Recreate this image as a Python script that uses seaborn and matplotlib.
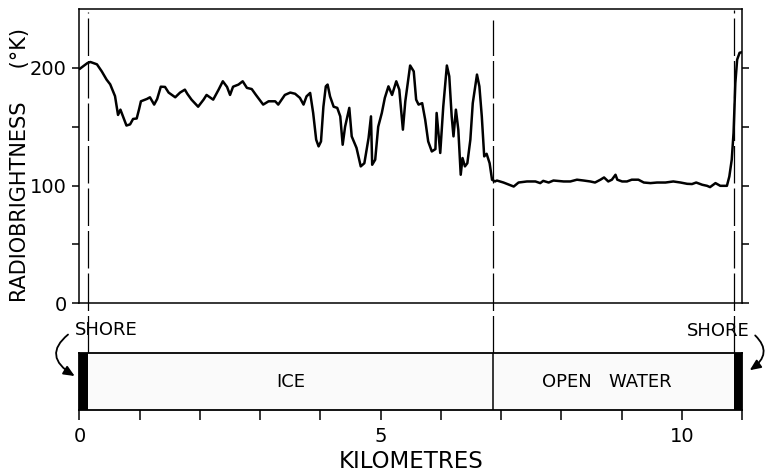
import matplotlib
matplotlib.use("Agg")
import numpy as np
import pandas as pd
import seaborn as sns
import matplotlib.pyplot as plt

# Distance along the traverse (km) and microwave brightness temperature (K)
km = [0.00, 0.13, 0.18, 0.29, 0.37, 0.45, 0.51, 0.59, 0.64, 0.68, 0.72, 0.78,
      0.84, 0.89, 0.95, 0.99, 1.02, 1.12, 1.17, 1.24, 1.29, 1.35, 1.42, 1.48,
      1.59, 1.67, 1.75, 1.79, 1.86, 1.97, 2.06, 2.11, 2.22, 2.31, 2.38, 2.45,
      2.50, 2.55, 2.64, 2.71, 2.78, 2.86, 2.93, 3.05, 3.14, 3.25, 3.30, 3.41,
      3.50, 3.58, 3.66, 3.72, 3.77, 3.83, 3.88, 3.93, 3.97, 4.01, 4.05, 4.09,
      4.12, 4.16, 4.22, 4.28, 4.33, 4.37, 4.41, 4.48, 4.52, 4.60, 4.67, 4.73,
      4.80, 4.84, 4.86, 4.91, 4.96, 5.02, 5.07, 5.13, 5.19, 5.26, 5.31, 5.37,
      5.41, 5.49, 5.55, 5.59, 5.63, 5.69, 5.74, 5.79, 5.85, 5.91, 5.93, 5.96,
      5.99, 6.04, 6.10, 6.14, 6.18, 6.21, 6.25, 6.29, 6.33, 6.36, 6.40, 6.44,
      6.49, 6.53, 6.60, 6.64, 6.68, 6.72, 6.76, 6.81, 6.85, 6.90, 6.93, 7.04,
      7.21, 7.29, 7.43, 7.57, 7.65, 7.70, 7.79, 7.87, 8.04, 8.15, 8.26, 8.37,
      8.48, 8.56, 8.65, 8.71, 8.78, 8.84, 8.90, 8.93, 9.01, 9.09, 9.17, 9.28,
      9.37, 9.48, 9.59, 9.73, 9.86, 9.98, 10.09, 10.17, 10.24, 10.34, 10.42,
      10.47, 10.56, 10.64, 10.75, 10.79, 10.83, 10.86, 10.89, 10.92, 10.96,
      11.00]
brightness = [199, 204, 205, 203, 197, 190, 186, 176, 160, 164.5, 159, 151,
              152, 156.6, 157, 165, 171.6, 173.6, 175, 168.8, 173.6, 184, 183.8, 179,
              175, 179, 181.5, 178, 173, 167, 173, 177, 173, 181.5, 188.6, 183.8,
              177, 184, 185.8, 188.6, 183, 182, 177, 168.8, 171.6, 171.6, 168.8, 177,
              179, 178, 174.5, 168.8, 175.8, 178.7, 161.7, 139, 133.3, 137.5, 167, 184.3,
              185.8, 175.8, 167, 166, 158.8, 134.7, 150, 166, 141.8, 132, 116.3, 119,
              140.4, 158.8, 117.7, 122, 150, 161.7, 174.5, 184.3, 177, 188.6, 181.5, 147.5,
              171.6, 202, 197, 173, 168.8, 170, 156, 137.5, 129, 131, 161.7, 144.7,
              127.7, 167, 202, 192.8, 158.8, 141.8, 164.5, 147.5, 109.2, 123.4, 116.3, 119,
              139, 170, 194.3, 184.3, 158.8, 124.8, 127, 119, 105, 103.5, 104.3, 102.6,
              99.2, 102.6, 103.5, 103.5, 102.1, 104, 102.6, 104.3, 103.5, 103.5, 105, 104.3,
              103.5, 102.6, 105, 106.9, 103.5, 105, 109.2, 105, 103.5, 103.5, 105, 105,
              102.6, 102.1, 102.6, 102.6, 103.5, 102.6, 101.5, 101.3, 102.6, 100.7, 99.8,
              98.7, 102.1, 99.8, 99.8, 107.7, 122, 144.7, 187.2, 207, 212.8,
              213.3]

# Boundaries along the traverse (km)
shore_left_km = 0.14
ice_edge_km = 6.87
shore_right_km = 10.86
track_end_km = 11.0

y_major = [0, 100, 200]
y_minor = [50, 150]
x_major = [0, 5, 10]
x_minor = [1, 2, 3, 4, 6, 7, 8, 9, 11]

sns.set_theme(style="ticks")
plt.rcParams["font.family"] = ["DejaVu Sans"]
plt.rcParams["axes.linewidth"] = 1.1

fig = plt.figure(figsize=(7.65, 4.76), dpi=100)
ax = fig.add_axes([0.1039, 0.3628, 0.866, 0.6183])
strip = fig.add_axes([0.1039, 0.1387, 0.866, 0.1204])

df = pd.DataFrame({"km": km, "brightness": brightness})
sns.lineplot(data=df, x="km", y="brightness", ax=ax, color="black",
             lw=1.8, estimator=None, sort=False)

ax.set_xlim(0, track_end_km)
ax.set_ylim(0, 250)
ax.set_xticks([])
ax.set_yticks(y_major)
ax.set_yticks(y_minor, minor=True)
ax.tick_params(axis="y", which="both", direction="out", length=5, width=1.1,
               left=True, right=True, labelsize=14, pad=4, colors="black")
ax.set_xlabel("")
ax.set_ylabel("RADIOBRIGHTNESS     (°K)", fontsize=15, color="black")
ax.yaxis.set_label_coords(-0.074, 0.47)
for s in ax.spines.values():
    s.set_color("black")

# Dashed markers at the shorelines and the ice edge, carried down to the strip
dash = (0, (30, 4))
ax.axvline(shore_left_km, ymin=-0.168, ymax=0.99, color="black", lw=0.9,
           ls=dash, clip_on=False)
ax.axvline(ice_edge_km, ymin=-0.168, ymax=0.963, color="black", lw=0.9,
           ls=dash, clip_on=False)
ax.axvline(shore_right_km, ymin=-0.168, ymax=0.997, color="black", lw=0.9,
           ls=dash, clip_on=False)

# Surface-type strip
strip.set_xlim(0, track_end_km)
strip.set_ylim(0, 1)
strip.axvspan(shore_left_km, shore_right_km, color="#fafafa", lw=0)
strip.axvspan(0, shore_left_km, color="black", lw=0)
strip.axvspan(shore_right_km, track_end_km, color="black", lw=0)
strip.axvline(ice_edge_km, color="black", lw=1.1)
strip.set_yticks([])
strip.set_xticks(x_major)
strip.set_xticks(x_minor, minor=True)
strip.tick_params(axis="x", which="both", direction="out", length=7, width=1.1,
                  labelsize=14, pad=5, colors="black")
strip.set_xlabel("KILOMETRES", fontsize=16.5, labelpad=3, color="black")
for s in strip.spines.values():
    s.set_color("black")
    s.set_linewidth(1.3)

strip.text((shore_left_km + ice_edge_km) / 2, 0.48, "ICE", ha="center",
           va="center", fontsize=13, color="black")
strip.text(8.75, 0.48, "OPEN   WATER", ha="center", va="center",
           fontsize=13, color="black")

xt = strip.get_xaxis_transform()
strip.annotate("SHORE", xy=(-0.06, 0.58), xycoords=xt,
               xytext=(0.44, 1.40), textcoords=xt, ha="center", va="center",
               fontsize=13, color="black", annotation_clip=False,
               arrowprops=dict(arrowstyle="-|>,head_length=0.5,head_width=0.22",
                               connectionstyle="arc3,rad=0.8", color="black",
                               lw=1.3, relpos=(0.0, 0.5), shrinkA=3, shrinkB=1))
strip.annotate("SHORE", xy=(11.11, 0.68), xycoords=xt,
               xytext=(10.61, 1.38), textcoords=xt, ha="center", va="center",
               fontsize=13, color="black", annotation_clip=False,
               arrowprops=dict(arrowstyle="-|>,head_length=0.5,head_width=0.22",
                               connectionstyle="arc3,rad=-0.7", color="black",
                               lw=1.3, relpos=(1.0, 0.5), shrinkA=2, shrinkB=1))

fig.savefig("out.png", dpi=100)
